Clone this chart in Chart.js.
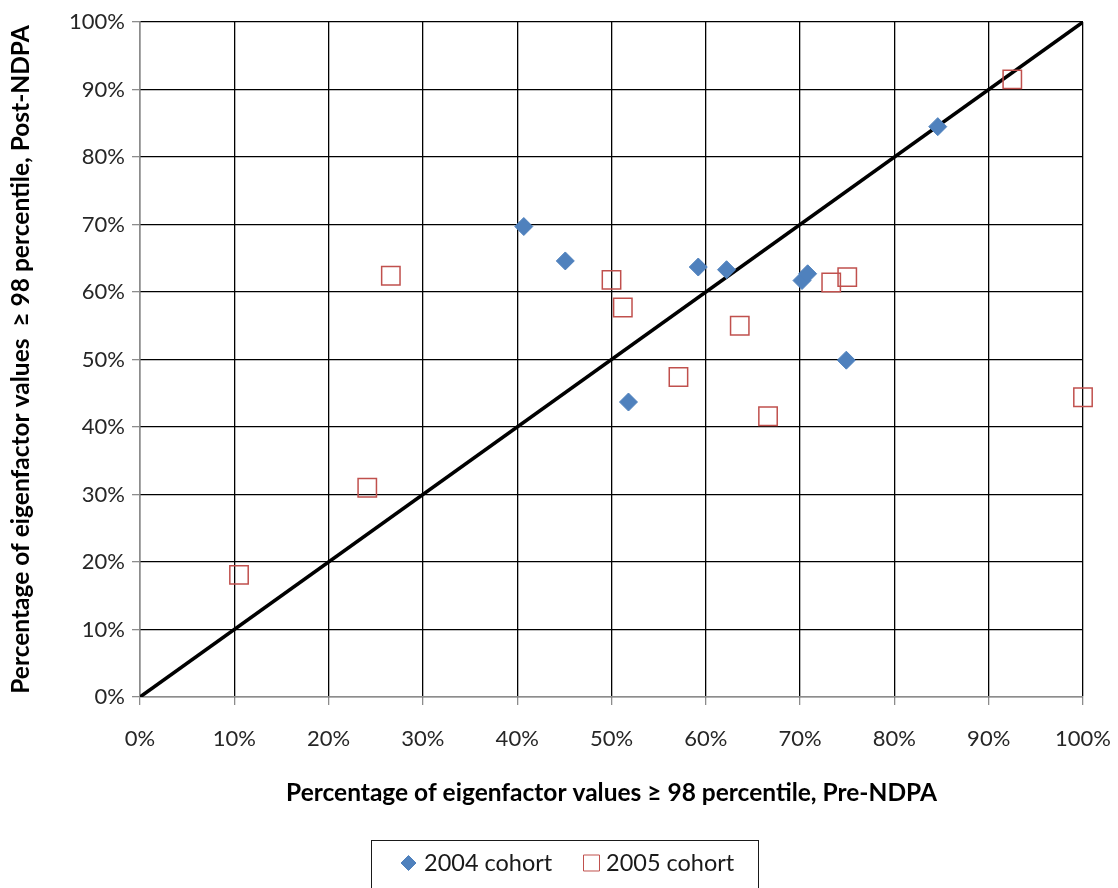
<!DOCTYPE html>
<html>
<head>
<meta charset="utf-8">
<script src="https://cdn.jsdelivr.net/npm/chart.js@4/dist/chart.umd.min.js"></script>
<style>
  html, body { margin: 0; padding: 0; background: #ffffff; }
  #wrap { width: 1118px; height: 888px; }
</style>
</head>
<body>
<div id="wrap"><canvas id="chart" width="1118" height="888"></canvas></div>
<script>
// Tick labels shared by both axes
const percentTicks = ['0%', '10%', '20%', '30%', '40%', '50%', '60%', '70%', '80%', '90%', '100%'];

// Share of eigenfactor values >= 98th percentile, before (x) and after (y) NDPA
const cohort2004Pre  = [0.407, 0.451, 0.592, 0.622, 0.702, 0.708, 0.749, 0.518, 0.846];
const cohort2004Post = [0.697, 0.646, 0.637, 0.633, 0.617, 0.627, 0.499, 0.437, 0.845];

const cohort2005Pre  = [0.266, 0.500, 0.512, 0.636, 0.571, 0.666, 0.733, 0.750, 0.925, 1.000, 0.241, 0.105];
const cohort2005Post = [0.624, 0.618, 0.577, 0.550, 0.474, 0.416, 0.614, 0.622, 0.915, 0.444, 0.310, 0.181];

// Line of equality (post = pre)
const parityPre  = [0, 1];
const parityPost = [0, 1];

const seriesNames = ['2004 cohort', '2005 cohort'];

const toPoints = (xs, ys) => xs.map((x, i) => ({ x: x, y: ys[i] }));

const BLUE = '#4F81BD';
const RED = '#C0504D';
const TICK_FONT = { family: 'Lato', size: 22 };
const TITLE_FONT = { family: 'Lato', size: 24.5, weight: 'bold' };

// Boxed legend under the x-axis title
const boxedLegend = {
  id: 'boxedLegend',
  afterDraw(chart) {
    const ctx = chart.ctx;
    ctx.save();
    ctx.strokeStyle = '#1a1a1a';
    ctx.lineWidth = 1;
    ctx.strokeRect(371.5, 840.5, 387, 80);
    const slots = [
      { ds: 0, px: 408.5, tx: 424 },
      { ds: 1, px: 591.5, tx: 606 }
    ];
    const cy = 863;
    slots.forEach(s => {
      const ds = chart.data.datasets[s.ds];
      ctx.fillStyle = ds.pointBackgroundColor;
      ctx.strokeStyle = ds.pointBorderColor;
      const isDiamond = ds.pointStyle === 'rectRot';
      Chart.helpers.drawPoint(ctx, {
        pointStyle: ds.pointStyle,
        radius: isDiamond ? 7.5 : 11.3,
        borderWidth: ds.pointBorderWidth,
        rotation: 0
      }, s.px, cy);
      ctx.fillStyle = '#1a1a1a';
      ctx.font = '23.5px Lato';
      ctx.textAlign = 'left';
      ctx.textBaseline = 'middle';
      ctx.fillText(ds.label, s.tx, cy);
    });
    ctx.restore();
  }
};

new Chart(document.getElementById('chart'), {
  type: 'scatter',
  data: {
    datasets: [
      {
        label: seriesNames[0],
        data: toPoints(cohort2004Pre, cohort2004Post),
        pointStyle: 'rectRot',
        pointRadius: 9,
        pointBackgroundColor: BLUE,
        pointBorderColor: BLUE,
        pointBorderWidth: 1,
        clip: false,
        order: 1
      },
      {
        label: seriesNames[1],
        data: toPoints(cohort2005Pre, cohort2005Post),
        pointStyle: 'rect',
        pointRadius: 13,
        pointBackgroundColor: 'rgba(0,0,0,0)',
        pointBorderColor: RED,
        pointBorderWidth: 1.5,
        clip: false,
        order: 2
      },
      {
        label: 'parity',
        data: toPoints(parityPre, parityPost),
        showLine: true,
        borderColor: '#000000',
        borderWidth: 3.5,
        pointRadius: 0,
        order: 3
      }
    ]
  },
  options: {
    responsive: false,
    animation: false,
    devicePixelRatio: 1,
    layout: { padding: { left: 0, top: 22, right: 35, bottom: 0 } },
    plugins: {
      legend: { display: false },
      tooltip: { enabled: false }
    },
    scales: {
      x: {
        type: 'linear',
        min: 0,
        max: 1,
        afterFit(scale) {
          scale.height = 191;
          scale.paddingLeft = 0;
          scale.paddingRight = 0;
        },
        ticks: {
          stepSize: 0.1,
          padding: 21,
          color: '#262626',
          font: TICK_FONT,
          maxRotation: 0,
          callback: (v, i) => percentTicks[i]
        },
        grid: {
          color: '#000000',
          lineWidth: 1.3,
          tickColor: '#8c8c8c',
          tickLength: 8
        },
        border: { color: '#8c8c8c', width: 1.3 },
        title: {
          display: true,
          text: 'Percentage of eigenfactor values ≥ 98 percentile, Pre-NDPA',
          color: '#000000',
          font: TITLE_FONT,
          padding: { top: 0, bottom: 80 }
        }
      },
      y: {
        type: 'linear',
        min: 0,
        max: 1,
        afterFit(scale) {
          scale.width = 140;
          scale.paddingTop = 0;
          scale.paddingBottom = 0;
        },
        ticks: {
          stepSize: 0.1,
          padding: 7,
          color: '#262626',
          font: TICK_FONT,
          callback: (v, i) => percentTicks[i]
        },
        grid: {
          color: '#000000',
          lineWidth: 1.3,
          tickColor: '#8c8c8c',
          tickLength: 8
        },
        border: { color: '#8c8c8c', width: 1.3 },
        title: {
          display: true,
          text: 'Percentage of eigenfactor values  ≥ 98 percentile, Post-NDPA',
          color: '#000000',
          font: TITLE_FONT,
          padding: { top: 6, bottom: 0 }
        }
      }
    }
  },
  plugins: [boxedLegend]
});
</script>
</body>
</html>
